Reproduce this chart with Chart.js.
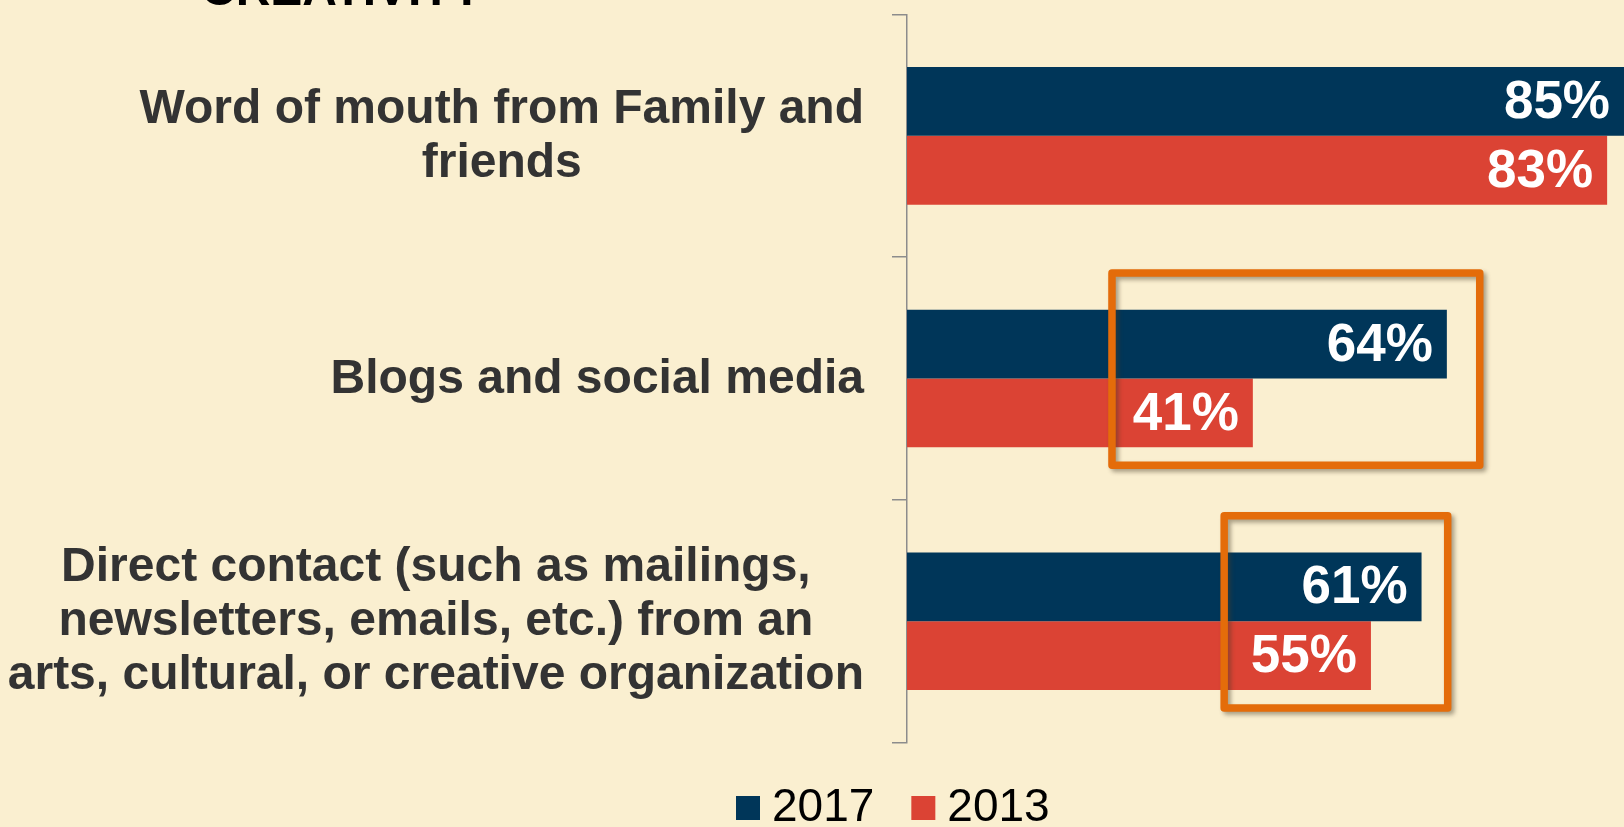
<!DOCTYPE html>
<html>
<head>
<meta charset="utf-8">
<script src="https://cdn.jsdelivr.net/npm/chart.js@4/dist/chart.umd.min.js"></script>
<style>
html, body { margin: 0; padding: 0; background: #FAEFD0; overflow: hidden; width: 1624px; height: 827px; }
canvas { display: block; }
</style>
</head>
<body>
<canvas id="c" width="1624" height="850"></canvas>
<script>
// ---- data ----
const titleText = 'CREATIVITY';
const categories = [
  ['Word of mouth from Family and', 'friends'],
  ['Blogs and social media'],
  ['Direct contact (such as mailings,', 'newsletters, emails, etc.) from an', 'arts, cultural, or creative organization']
];
const seriesNames = ['2017', '2013'];
const values2017 = [85, 64, 61];
const values2013 = [83, 41, 55];
// highlighted regions (category index, value range)
const highlightCategory = [1, 2];
const highlightFrom = [24.3, 37.6];
const highlightTo = [67.9, 64.1];

// ---- styles ----
const BG = '#FAEFD0';
const BLUE = '#003659';
const RED = '#DB4334';
const ORANGE = '#E46C0A';
const FONT = '"Liberation Sans", Arial, sans-serif';

const bgPlugin = {
  id: 'bg',
  beforeDraw(chart) {
    const ctx = chart.ctx;
    ctx.save();
    ctx.fillStyle = BG;
    ctx.fillRect(0, 0, chart.width, chart.height);
    ctx.restore();
  }
};

const textPlugin = {
  id: 'texts',
  afterDraw(chart) {
    const ctx = chart.ctx;
    const y = chart.scales.y;
    ctx.save();
    // clipped title at top
    ctx.font = 'bold 48px ' + FONT;
    ctx.fillStyle = '#000000';
    ctx.textAlign = 'left';
    ctx.textBaseline = 'alphabetic';
    ctx.fillText(titleText, 201, 4.5);
    // category labels: block right-aligned, lines centered in block
    ctx.font = 'bold 48px ' + FONT;
    ctx.fillStyle = '#333333';
    ctx.textAlign = 'center';
    ctx.textBaseline = 'middle';
    const rightEdge = y.right - 43;
    const lh = 54;
    categories.forEach((lines, i) => {
      const cy = y.getPixelForValue(i);
      const maxW = Math.max(...lines.map(l => ctx.measureText(l).width));
      const cx = rightEdge - maxW / 2;
      lines.forEach((l, j) => {
        ctx.fillText(l, cx, cy + (j - (lines.length - 1) / 2) * lh + 1);
      });
    });
    ctx.restore();
  }
};

const valueLabelPlugin = {
  id: 'valueLabels',
  afterDatasetsDraw(chart) {
    const ctx = chart.ctx;
    ctx.save();
    ctx.font = 'bold 53px ' + FONT;
    ctx.fillStyle = '#FFFFFF';
    ctx.textAlign = 'right';
    ctx.textBaseline = 'middle';
    chart.data.datasets.forEach((ds, di) => {
      const meta = chart.getDatasetMeta(di);
      meta.data.forEach((el, i) => {
        ctx.fillText(ds.data[i] + '%', el.x - 14, el.y + 2);
      });
    });
    // highlight boxes
    const xs = chart.scales.x, ys = chart.scales.y;
    const band = (ys.bottom - ys.top) / categories.length;
    ctx.strokeStyle = ORANGE;
    ctx.lineWidth = 7.5;
    ctx.lineJoin = 'round';
    ctx.shadowColor = 'rgba(70,60,40,0.45)';
    ctx.shadowBlur = 4;
    ctx.shadowOffsetX = 3;
    ctx.shadowOffsetY = 3;
    highlightCategory.forEach((c, k) => {
      const cy = ys.getPixelForValue(c);
      const top = cy - 0.435 * band;
      const bottom = cy + 0.357 * band;
      const left = xs.getPixelForValue(highlightFrom[k]);
      const right = xs.getPixelForValue(highlightTo[k]);
      ctx.strokeRect(left, top, right - left, bottom - top);
    });
    ctx.restore();
  }
};

const legendShift = {
  id: 'legendShift',
  afterLayout(chart) {
    const lg = chart.legend;
    if (!lg || !lg.lineWidths) return;
    const pad = lg.options.labels.padding;
    const curX = (lg.left + pad + lg.right - lg.lineWidths[0]) / 2;
    const dx = 747 - curX;
    const dy = 808 - (lg.top + pad + 23);
    lg.left += dx; lg.right += dx;
    lg.top += dy; lg.bottom += dy;
  }
};

new Chart(document.getElementById('c'), {
  type: 'bar',
  data: {
    labels: categories,
    datasets: [
      { label: seriesNames[0], data: values2017, backgroundColor: BLUE, borderWidth: 0 },
      { label: seriesNames[1], data: values2013, backgroundColor: RED, borderWidth: 0 }
    ]
  },
  options: {
    indexAxis: 'y',
    responsive: false,
    animation: false,
    devicePixelRatio: 1,
    categoryPercentage: 0.567,
    barPercentage: 1.0,
    layout: { padding: { top: 14.5, left: 0, right: 0, bottom: 3.4 } },
    scales: {
      x: { display: false, min: 0, max: 85 },
      y: {
        type: 'category',
        offset: true,
        grid: { display: true, drawOnChartArea: false, drawTicks: true, tickLength: 15, color: '#8C8C8C', lineWidth: 1.5, offset: true },
        border: { display: true, color: '#8C8C8C', width: 1.5 },
        ticks: { color: 'rgba(0,0,0,0)', font: { size: 1, lineHeight: 1 }, padding: 0 },
        afterFit(s) { s.width = 907; }
      }
    },
    plugins: {
      legend: {
        display: true,
        position: 'bottom',
        labels: {
          usePointStyle: true,
          pointStyle: 'rect',
          boxWidth: 2,
          boxHeight: 24,
          padding: 48,
          color: '#000000',
          font: { family: FONT, size: 46 }
        }
      },
      tooltip: { enabled: false },
      title: { display: false }
    }
  },
  plugins: [bgPlugin, textPlugin, valueLabelPlugin, legendShift]
});
</script>
</body>
</html>
